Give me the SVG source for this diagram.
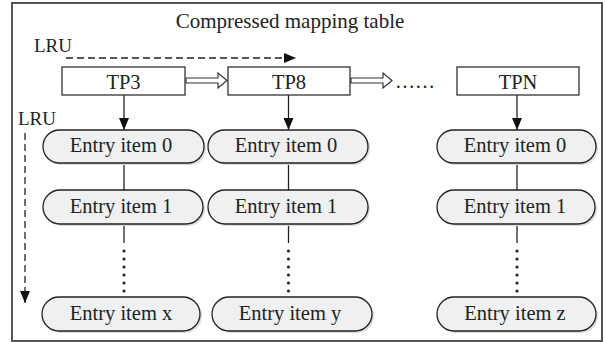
<svg xmlns="http://www.w3.org/2000/svg" width="606" height="342" viewBox="0 0 606 342" font-family="'Liberation Serif', 'DejaVu Serif', serif">
<defs>
<style>
text{font-family:'Liberation Serif','DejaVu Serif',serif;fill:#222;}
.t{font-size:20.5px;text-anchor:middle;}
.lbl{font-size:19px;}
.box{fill:#fff;stroke:#333;stroke-width:1.3;}
.pill{fill:#eff0f2;stroke:#222;stroke-width:1.3;}
.sh{fill:#dcdcdc;}
.ln{stroke:#222;stroke-width:1.3;fill:none;}
.dash{stroke:#222;stroke-width:1.3;fill:none;stroke-dasharray:7 4;}
.hollow{fill:#fff;stroke:#333;stroke-width:1.2;}
.dot{fill:#222;}
</style>
<marker id="ah" viewBox="0 0 12 10" refX="12" refY="5" markerWidth="12" markerHeight="10" markerUnits="userSpaceOnUse" orient="auto">
<path d="M0,0 L12,5 L0,10 Z" fill="#111"/>
</marker>
</defs>
<rect width="606" height="342" fill="#fff"/>
<rect x="12" y="3" width="590" height="338" fill="none" stroke="#555" stroke-width="2"/>
<text class="t" x="290" y="28" font-family="Liberation Serif, serif" style="font-size:21px">Compressed mapping table</text>
<text class="lbl" x="34" y="52" font-family="Liberation Serif, serif">LRU</text>
<text class="lbl" x="18" y="125" font-family="Liberation Serif, serif">LRU</text>
<text x="395" y="88" font-family="Liberation Serif, serif" style="font-size:20px">……</text>
<g id="connectors">
<line class="dash" x1="66" y1="58" x2="296" y2="58" marker-end="url(#ah)"/>
<line class="dash" x1="25" y1="133" x2="25" y2="303" marker-end="url(#ah)"/>
<path class="hollow" d="M186,78 L218,78 L218,73 L227,80.5 L218,88 L218,83 L186,83 Z"/>
<path class="hollow" d="M351,78 L383,78 L383,73 L392,80.5 L383,88 L383,83 L351,83 Z"/>
<line class="ln" x1="124" y1="95" x2="124" y2="130" marker-end="url(#ah)"/>
<line class="ln" x1="288.5" y1="95" x2="288.5" y2="130" marker-end="url(#ah)"/>
<line class="ln" x1="517" y1="95" x2="517" y2="130" marker-end="url(#ah)"/>
<line class="ln" x1="124" y1="163" x2="124" y2="190"/>
<line class="ln" x1="288.5" y1="163" x2="288.5" y2="190"/>
<line class="ln" x1="517" y1="163" x2="517" y2="190"/>
<line class="ln" x1="124" y1="224" x2="124" y2="243"/>
<line class="ln" x1="288.5" y1="224" x2="288.5" y2="243"/>
<line class="ln" x1="517" y1="224" x2="517" y2="243"/>
<g class="dot">
<circle cx="124" cy="251" r="1.6"/><circle cx="124" cy="259" r="1.6"/><circle cx="124" cy="267" r="1.6"/><circle cx="124" cy="275" r="1.6"/><circle cx="124" cy="283" r="1.6"/><circle cx="124" cy="291" r="1.6"/>
<circle cx="288.5" cy="251" r="1.6"/><circle cx="288.5" cy="259" r="1.6"/><circle cx="288.5" cy="267" r="1.6"/><circle cx="288.5" cy="275" r="1.6"/><circle cx="288.5" cy="283" r="1.6"/><circle cx="288.5" cy="291" r="1.6"/>
<circle cx="517" cy="251" r="1.6"/><circle cx="517" cy="259" r="1.6"/><circle cx="517" cy="267" r="1.6"/><circle cx="517" cy="275" r="1.6"/><circle cx="517" cy="283" r="1.6"/><circle cx="517" cy="291" r="1.6"/>
</g>
</g>
<g id="tp3" font-family="Liberation Serif, serif"><rect class="box" x="62" y="67" width="123" height="28"/><text class="t" x="123.5" y="89">TP3</text></g>
<g id="tp8" font-family="Liberation Serif, serif"><rect class="box" x="228" y="67" width="122" height="28"/><text class="t" x="289" y="89">TP8</text></g>
<g id="tpn" font-family="Liberation Serif, serif"><rect class="box" x="457" y="67" width="122" height="28"/><text class="t" x="518" y="89">TPN</text></g>
<g id="c1e0" font-family="Liberation Serif, serif"><rect class="sh" x="45" y="132" width="161" height="33" rx="16.5"/><rect class="pill" x="43" y="130" width="161" height="33" rx="16.5"/><text class="t" x="121" y="152">Entry item 0</text></g>
<g id="c1e1" font-family="Liberation Serif, serif"><rect class="sh" x="45" y="192" width="160" height="34" rx="17"/><rect class="pill" x="43" y="190" width="160" height="34" rx="17"/><text class="t" x="121" y="212.5">Entry item 1</text></g>
<g id="c1ex" font-family="Liberation Serif, serif"><rect class="sh" x="44" y="299" width="158" height="34" rx="17"/><rect class="pill" x="42" y="297" width="158" height="34" rx="17"/><text class="t" x="121" y="319.5">Entry item x</text></g>
<g id="c2e0" font-family="Liberation Serif, serif"><rect class="sh" x="210" y="132" width="160" height="33" rx="16.5"/><rect class="pill" x="208" y="130" width="160" height="33" rx="16.5"/><text class="t" x="286" y="152">Entry item 0</text></g>
<g id="c2e1" font-family="Liberation Serif, serif"><rect class="sh" x="210" y="192" width="160" height="34" rx="17"/><rect class="pill" x="208" y="190" width="160" height="34" rx="17"/><text class="t" x="286" y="212.5">Entry item 1</text></g>
<g id="c2ey" font-family="Liberation Serif, serif"><rect class="sh" x="214" y="299" width="160" height="34" rx="17"/><rect class="pill" x="212" y="297" width="160" height="34" rx="17"/><text class="t" x="290" y="319.5">Entry item y</text></g>
<g id="c3e0" font-family="Liberation Serif, serif"><rect class="sh" x="439" y="132" width="159" height="33" rx="16.5"/><rect class="pill" x="437" y="130" width="159" height="33" rx="16.5"/><text class="t" x="515" y="152">Entry item 0</text></g>
<g id="c3e1" font-family="Liberation Serif, serif"><rect class="sh" x="439" y="192" width="158" height="34" rx="17"/><rect class="pill" x="437" y="190" width="158" height="34" rx="17"/><text class="t" x="515" y="212.5">Entry item 1</text></g>
<g id="c3ez" font-family="Liberation Serif, serif"><rect class="sh" x="439" y="299" width="159" height="34" rx="17"/><rect class="pill" x="437" y="297" width="159" height="34" rx="17"/><text class="t" x="515" y="319.5">Entry item z</text></g>
</svg>
